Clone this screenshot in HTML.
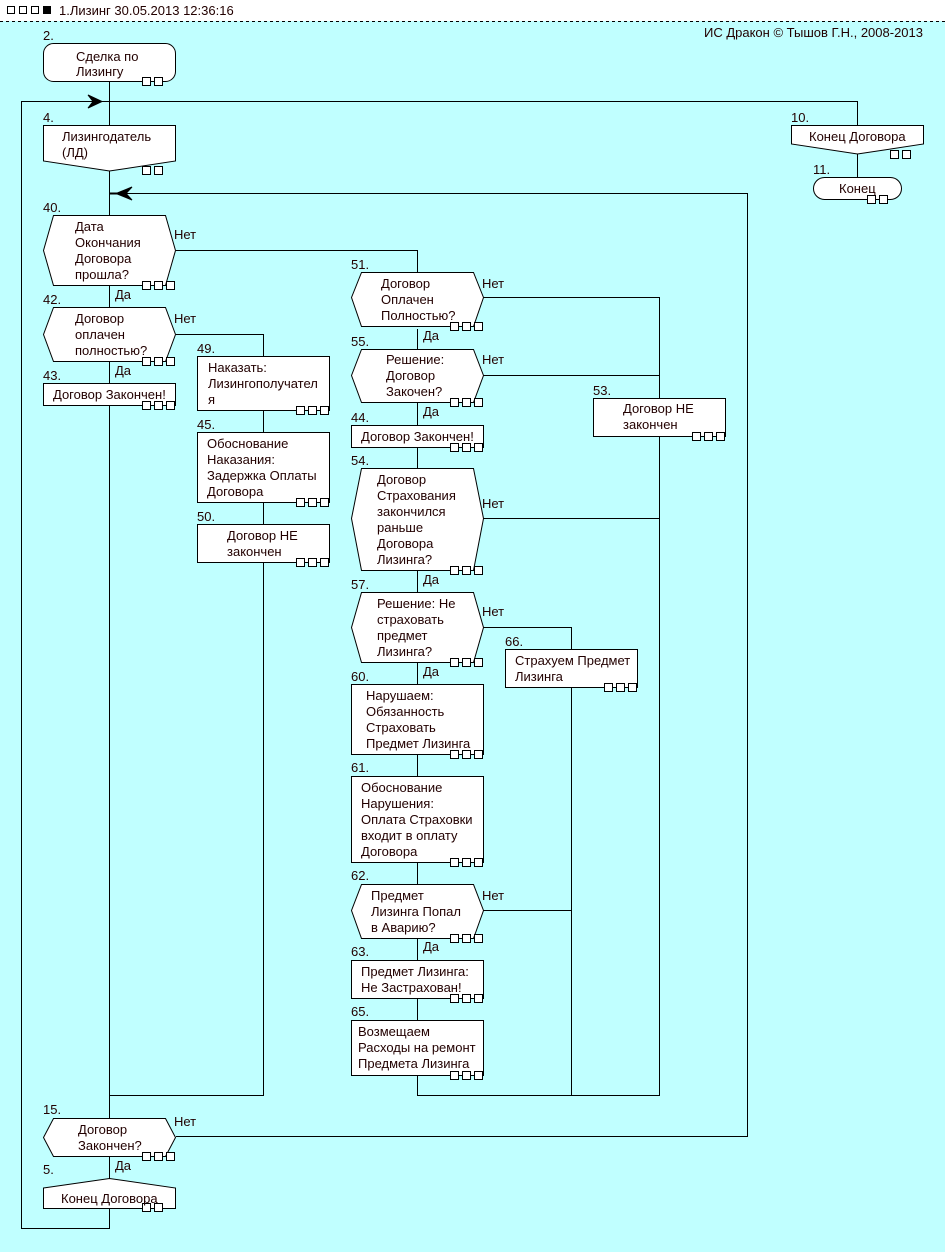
<!DOCTYPE html>
<html><head><meta charset="utf-8">
<style>
html,body{margin:0;padding:0;background:#c0ffff;}
svg{display:block;}
text{font-family:"Liberation Sans","DejaVu Sans",sans-serif;font-size:13px;fill:#200;}
.s{fill:#fff;stroke:#000;stroke-width:1;}
.l{stroke:#000;stroke-width:1;fill:none;}
.q rect{width:8px;height:8px;}
</style></head><body>
<svg width="945" height="1252" viewBox="0 0 945 1252" xmlns="http://www.w3.org/2000/svg">
<rect x="0" y="0" width="945" height="1252" fill="#c0ffff"/>
<rect x="0" y="0" width="945" height="21" fill="#fff"/>
<g fill="#fff" stroke="#000"><rect x="7.5" y="6.5" width="7" height="7"/><rect x="19.5" y="6.5" width="7" height="7"/><rect x="31.5" y="6.5" width="7" height="7"/></g>
<rect x="43" y="6" width="8" height="8" fill="#000"/>
<text x="59" y="15">1.Лизинг 30.05.2013 12:36:16</text>
<line x1="0" y1="21.5" x2="945" y2="21.5" stroke="#000" stroke-dasharray="3,3"/>
<text x="923" y="37" text-anchor="end">ИС Дракон © Тышов Г.Н., 2008-2013</text>

<g class="l">
<path d="M109.5 81V1228.5H21.5V101.5H857.5V125"/>
<path d="M857.5 154V177"/>
<path d="M109.5 193.5H747.5V1136.5H176"/>
<path d="M176 250.5H417.5V272"/>
<path d="M176 334.5H263.5V1095.5H109.5"/>
<path d="M417.5 329V1095.5H659.5V297.5H483"/>
<path d="M483 375.5H659.5"/>
<path d="M483 518.5H659.5"/>
<path d="M483 627.5H571.5V1095.5"/>
<path d="M483 910.5H571.5"/>
</g>
<polygon points="88,95 102,101.5 88,108 93,101.5" fill="#000" stroke="#000"/>
<polygon points="132,187 116,193.5 132,200 126,193.5" fill="#000" stroke="#000"/>
<line x1="110" y1="193.5" x2="126" y2="193.5" stroke="#000" stroke-width="2"/>

<rect class="s" x="43.5" y="43.5" width="132" height="38" rx="10"/>
<polygon class="s" points="43.5,125.5 175.5,125.5 175.5,161 109.5,171 43.5,161"/>
<polygon class="s" points="791.5,125.5 923.5,125.5 923.5,144 857.5,154 791.5,144"/>
<rect class="s" x="813.5" y="177.5" width="88" height="22" rx="11"/>
<polygon class="s" points="53.5,215.5 165.5,215.5 175.5,250.5 165.5,285.5 53.5,285.5 43.5,250.5"/>
<polygon class="s" points="53.5,307.5 165.5,307.5 175.5,334.5 165.5,361.5 53.5,361.5 43.5,334.5"/>
<rect class="s" x="43.5" y="383.5" width="132" height="22"/>
<rect class="s" x="197.5" y="356.5" width="132" height="54"/>
<rect class="s" x="197.5" y="432.5" width="132" height="70"/>
<rect class="s" x="197.5" y="524.5" width="132" height="38"/>
<polygon class="s" points="361.5,272.5 473.5,272.5 483.5,297.5 473.5,326.5 361.5,326.5 351.5,297.5"/>
<polygon class="s" points="361.5,349.5 473.5,349.5 483.5,375.5 473.5,402.5 361.5,402.5 351.5,375.5"/>
<rect class="s" x="351.5" y="425.5" width="132" height="22"/>
<polygon class="s" points="361.5,468.5 473.5,468.5 483.5,518.5 473.5,570.5 361.5,570.5 351.5,518.5"/>
<polygon class="s" points="361.5,592.5 473.5,592.5 483.5,627.5 473.5,662.5 361.5,662.5 351.5,627.5"/>
<rect class="s" x="593.5" y="398.5" width="132" height="38"/>
<rect class="s" x="505.5" y="649.5" width="132" height="38"/>
<rect class="s" x="351.5" y="684.5" width="132" height="70"/>
<rect class="s" x="351.5" y="776.5" width="132" height="86"/>
<polygon class="s" points="361.5,884.5 473.5,884.5 483.5,910.5 473.5,938.5 361.5,938.5 351.5,910.5"/>
<rect class="s" x="351.5" y="960.5" width="132" height="38"/>
<rect class="s" x="351.5" y="1020.5" width="132" height="55"/>
<polygon class="s" points="53.5,1118.5 165.5,1118.5 175.5,1137.5 165.5,1156.5 53.5,1156.5 43.5,1137.5"/>
<polygon class="s" points="43.5,1188 109.5,1178.5 175.5,1188 175.5,1208.5 43.5,1208.5"/>

<g class="q" fill="#fff" stroke="#000">
<rect x="142.5" y="77.5" width="8" height="8"/><rect x="154.5" y="77.5" width="8" height="8"/>
<rect x="142.5" y="166.5" width="8" height="8"/><rect x="154.5" y="166.5" width="8" height="8"/>
<rect x="890.5" y="150.5" width="8" height="8"/><rect x="902.5" y="150.5" width="8" height="8"/>
<rect x="867.5" y="195.5" width="8" height="8"/><rect x="879.5" y="195.5" width="8" height="8"/>
<rect x="142.5" y="1203.5" width="8" height="8"/><rect x="154.5" y="1203.5" width="8" height="8"/>
<rect x="142.5" y="281.5" width="8" height="8"/><rect x="154.5" y="281.5" width="8" height="8"/><rect x="166.5" y="281.5" width="8" height="8"/>
<rect x="142.5" y="357.5" width="8" height="8"/><rect x="154.5" y="357.5" width="8" height="8"/><rect x="166.5" y="357.5" width="8" height="8"/>
<rect x="142.5" y="401.5" width="8" height="8"/><rect x="154.5" y="401.5" width="8" height="8"/><rect x="166.5" y="401.5" width="8" height="8"/>
<rect x="142.5" y="1152.5" width="8" height="8"/><rect x="154.5" y="1152.5" width="8" height="8"/><rect x="166.5" y="1152.5" width="8" height="8"/>
<rect x="296.5" y="406.5" width="8" height="8"/><rect x="308.5" y="406.5" width="8" height="8"/><rect x="320.5" y="406.5" width="8" height="8"/>
<rect x="296.5" y="498.5" width="8" height="8"/><rect x="308.5" y="498.5" width="8" height="8"/><rect x="320.5" y="498.5" width="8" height="8"/>
<rect x="296.5" y="558.5" width="8" height="8"/><rect x="308.5" y="558.5" width="8" height="8"/><rect x="320.5" y="558.5" width="8" height="8"/>
<rect x="450.5" y="322.5" width="8" height="8"/><rect x="462.5" y="322.5" width="8" height="8"/><rect x="474.5" y="322.5" width="8" height="8"/>
<rect x="450.5" y="398.5" width="8" height="8"/><rect x="462.5" y="398.5" width="8" height="8"/><rect x="474.5" y="398.5" width="8" height="8"/>
<rect x="450.5" y="443.5" width="8" height="8"/><rect x="462.5" y="443.5" width="8" height="8"/><rect x="474.5" y="443.5" width="8" height="8"/>
<rect x="450.5" y="566.5" width="8" height="8"/><rect x="462.5" y="566.5" width="8" height="8"/><rect x="474.5" y="566.5" width="8" height="8"/>
<rect x="450.5" y="658.5" width="8" height="8"/><rect x="462.5" y="658.5" width="8" height="8"/><rect x="474.5" y="658.5" width="8" height="8"/>
<rect x="450.5" y="750.5" width="8" height="8"/><rect x="462.5" y="750.5" width="8" height="8"/><rect x="474.5" y="750.5" width="8" height="8"/>
<rect x="450.5" y="858.5" width="8" height="8"/><rect x="462.5" y="858.5" width="8" height="8"/><rect x="474.5" y="858.5" width="8" height="8"/>
<rect x="450.5" y="934.5" width="8" height="8"/><rect x="462.5" y="934.5" width="8" height="8"/><rect x="474.5" y="934.5" width="8" height="8"/>
<rect x="450.5" y="994.5" width="8" height="8"/><rect x="462.5" y="994.5" width="8" height="8"/><rect x="474.5" y="994.5" width="8" height="8"/>
<rect x="450.5" y="1071.5" width="8" height="8"/><rect x="462.5" y="1071.5" width="8" height="8"/><rect x="474.5" y="1071.5" width="8" height="8"/>
<rect x="692.5" y="432.5" width="8" height="8"/><rect x="704.5" y="432.5" width="8" height="8"/><rect x="716.5" y="432.5" width="8" height="8"/>
<rect x="604.5" y="683.5" width="8" height="8"/><rect x="616.5" y="683.5" width="8" height="8"/><rect x="628.5" y="683.5" width="8" height="8"/>
</g>

<text x="43" y="40">2.</text>
<text x="76" y="61">Сделка по</text><text x="76" y="76">Лизингу</text>
<text x="43" y="122">4.</text>
<text x="62" y="141">Лизингодатель</text><text x="62" y="157">(ЛД)</text>
<text x="791" y="122">10.</text>
<text x="809" y="141">Конец Договора</text>
<text x="813" y="174">11.</text>
<text x="839" y="193">Конец</text>
<text x="43" y="212">40.</text>
<text x="75" y="231">Дата</text><text x="75" y="247">Окончания</text><text x="75" y="263">Договора</text><text x="75" y="279">прошла?</text>
<text x="174" y="239">Нет</text><text x="115" y="299">Да</text>
<text x="43" y="304">42.</text>
<text x="75" y="323">Договор</text><text x="75" y="339">оплачен</text><text x="75" y="355">полностью?</text>
<text x="174" y="323">Нет</text><text x="115" y="375">Да</text>
<text x="43" y="380">43.</text>
<text x="53" y="399">Договор Закончен!</text>
<text x="197" y="353">49.</text>
<text x="208" y="372">Наказать:</text><text x="208" y="388">Лизингополучател</text><text x="208" y="404">я</text>
<text x="197" y="429">45.</text>
<text x="207" y="448">Обоснование</text><text x="207" y="464">Наказания:</text><text x="207" y="480">Задержка Оплаты</text><text x="207" y="496">Договора</text>
<text x="197" y="521">50.</text>
<text x="227" y="540">Договор НЕ</text><text x="227" y="556">закончен</text>
<text x="351" y="269">51.</text>
<text x="381" y="288">Договор</text><text x="381" y="304">Оплачен</text><text x="381" y="320">Полностью?</text>
<text x="482" y="288">Нет</text><text x="423" y="340">Да</text>
<text x="351" y="346">55.</text>
<text x="386" y="364">Решение:</text><text x="386" y="380">Договор</text><text x="386" y="396">Закочен?</text>
<text x="482" y="364">Нет</text><text x="423" y="416">Да</text>
<text x="351" y="422">44.</text>
<text x="361" y="441">Договор Закончен!</text>
<text x="593" y="395">53.</text>
<text x="623" y="413">Договор НЕ</text><text x="623" y="429">закончен</text>
<text x="351" y="465">54.</text>
<text x="377" y="484">Договор</text><text x="377" y="500">Страхования</text><text x="377" y="516">закончился</text><text x="377" y="532">раньше</text><text x="377" y="548">Договора</text><text x="377" y="564">Лизинга?</text>
<text x="482" y="508">Нет</text><text x="423" y="584">Да</text>
<text x="351" y="589">57.</text>
<text x="377" y="608">Решение: Не</text><text x="377" y="624">страховать</text><text x="377" y="640">предмет</text><text x="377" y="656">Лизинга?</text>
<text x="482" y="616">Нет</text><text x="423" y="676">Да</text>
<text x="505" y="646">66.</text>
<text x="515" y="665">Страхуем Предмет</text><text x="515" y="681">Лизинга</text>
<text x="351" y="681">60.</text>
<text x="366" y="700">Нарушаем:</text><text x="366" y="716">Обязанность</text><text x="366" y="732">Страховать</text><text x="366" y="748">Предмет Лизинга</text>
<text x="351" y="772">61.</text>
<text x="361" y="792">Обоснование</text><text x="361" y="808">Нарушения:</text><text x="361" y="824">Оплата Страховки</text><text x="361" y="840">входит в оплату</text><text x="361" y="856">Договора</text>
<text x="351" y="880">62.</text>
<text x="371" y="900">Предмет</text><text x="371" y="916">Лизинга Попал</text><text x="371" y="932">в Аварию?</text>
<text x="482" y="900">Нет</text><text x="423" y="951">Да</text>
<text x="351" y="956">63.</text>
<text x="361" y="976">Предмет Лизинга:</text><text x="361" y="992">Не Застрахован!</text>
<text x="351" y="1016">65.</text>
<text x="358" y="1036">Возмещаем</text><text x="358" y="1052">Расходы на ремонт</text><text x="358" y="1068">Предмета Лизинга</text>
<text x="43" y="1114">15.</text>
<text x="78" y="1134">Договор</text><text x="78" y="1150">Закончен?</text>
<text x="174" y="1126">Нет</text><text x="115" y="1170">Да</text>
<text x="43" y="1174">5.</text>
<text x="61" y="1203">Конец Договора</text>
</svg>
</body></html>
